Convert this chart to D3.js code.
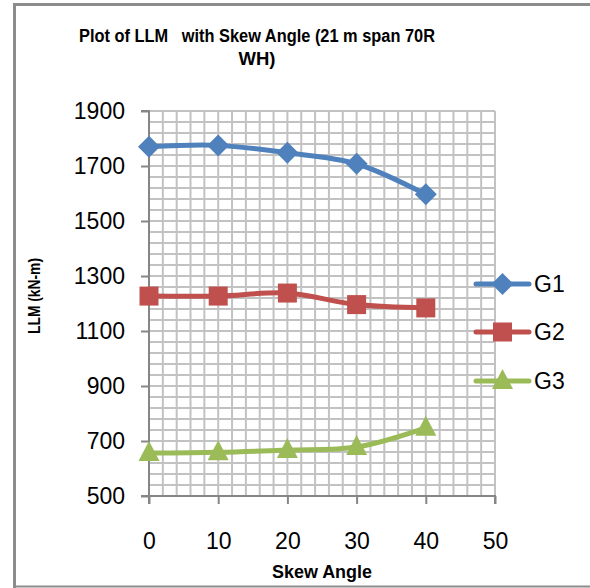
<!DOCTYPE html>
<html>
<head>
<meta charset="utf-8">
<script src="https://cdn.jsdelivr.net/npm/d3@7"></script>
<style>
  html, body { margin: 0; padding: 0; background: #fff; }
  svg { display: block; }
  text { font-family: "Liberation Sans Narrow", "Arial Narrow", "Liberation Sans", Arial, sans-serif; fill: #000; }
</style>
</head>
<body>
<svg id="chart" width="590" height="588"></svg>
<script>
// Skew angle (degrees) and longitudinal live-load moment per girder
const skewAngles = [0, 10, 20, 30, 40];
const g1 = [1770, 1775, 1748, 1708, 1597];
const g2 = [1227, 1227, 1238, 1196, 1184];
const g3 = [656, 659, 667, 678, 748];
const seriesNames = ["G1", "G2", "G3"];
const yTicks = [500, 700, 900, 1100, 1300, 1500, 1700, 1900];
const xTicks = [0, 10, 20, 30, 40, 50];

const series = [
  { name: seriesNames[0], values: g1, color: "#4F81BD", marker: "diamond" },
  { name: seriesNames[1], values: g2, color: "#C0504D", marker: "square" },
  { name: seriesNames[2], values: g3, color: "#9BBB59", marker: "triangle" }
];

const svg = d3.select("#chart");
const plot = { left: 149, right: 495, top: 111, bottom: 496 };

const x = d3.scaleLinear().domain([0, 50]).range([plot.left, plot.right]);
const y = d3.scaleLinear().domain([500, 1900]).range([plot.bottom, plot.top]);

// Chart frame
svg.append("path")
  .attr("d", "M14.5,590 L14.5,4.5 L600,4.5")
  .attr("fill", "none").attr("stroke", "#8c8c8c").attr("stroke-width", 3);
svg.append("line")
  .attr("x1", 14).attr("x2", 600).attr("y1", 586.5).attr("y2", 586.5)
  .attr("stroke", "#8c8c8c").attr("stroke-width", 2);

// Gridlines: minor every 2 degrees and every 40 kN-m
const grid = svg.append("g");
d3.range(2, 50.1, 2).forEach(v => {
  grid.append("line")
    .attr("x1", x(v)).attr("x2", x(v)).attr("y1", plot.top).attr("y2", plot.bottom)
    .attr("stroke", "#c2c2c2").attr("stroke-width", 2);
});
d3.range(540, 1900.1, 40).forEach(v => {
  grid.append("line")
    .attr("x1", plot.left).attr("x2", plot.right).attr("y1", y(v)).attr("y2", y(v))
    .attr("stroke", "#c2c2c2").attr("stroke-width", 2);
});

// Axes
const yAxis = d3.axisLeft(y).tickValues(yTicks).tickSize(8).tickPadding(16).tickFormat(d3.format("d"));
const xAxis = d3.axisBottom(x).tickValues(xTicks).tickSize(8).tickPadding(29).tickFormat(d3.format("d"));

const gy = svg.append("g").attr("transform", `translate(${plot.left},0)`).call(yAxis);
const gx = svg.append("g").attr("transform", `translate(0,${plot.bottom})`).call(xAxis);
[gx, gy].forEach(g => {
  g.select(".domain").attr("stroke", "#868686").attr("stroke-width", 2);
  g.selectAll(".tick line").attr("stroke", "#868686").attr("stroke-width", 2);
  g.selectAll(".tick text")
    .style("font-family", "'Liberation Sans Narrow', 'Arial Narrow', 'Liberation Sans', Arial, sans-serif")
    .style("font-size", "23px").attr("fill", "#000");
});
gx.select(".domain").attr("d", `M${plot.left},8V0H${plot.right}V8`);
gy.select(".domain").attr("d", `M-8,${plot.top}H0V${plot.bottom}H-8`);

// Series lines and markers
const line = d3.line()
  .x((d, i) => x(skewAngles[i]))
  .y(d => y(d))
  .curve(d3.curveCatmullRom.alpha(0.5));

function drawMarker(g, type, cx, cy, color) {
  if (type === "diamond") {
    g.append("path")
      .attr("d", `M${cx},${cy - 11}L${cx + 11},${cy}L${cx},${cy + 11}L${cx - 11},${cy}Z`)
      .attr("fill", color);
  } else if (type === "square") {
    g.append("rect")
      .attr("x", cx - 9.5).attr("y", cy - 9.5).attr("width", 19).attr("height", 19)
      .attr("fill", color);
  } else {
    g.append("path")
      .attr("d", `M${cx},${cy - 12}L${cx + 10.5},${cy + 8}L${cx - 10.5},${cy + 8}Z`)
      .attr("fill", color);
  }
}

series.forEach(s => {
  const g = svg.append("g");
  g.append("path")
    .datum(s.values)
    .attr("d", line)
    .attr("fill", "none")
    .attr("stroke", s.color)
    .attr("stroke-width", 5)
    .attr("stroke-linecap", "round");
  s.values.forEach((v, i) => drawMarker(g, s.marker, x(skewAngles[i]), y(v), s.color));
});

// Legend
const legendY = [284, 332, 381];
series.forEach((s, i) => {
  const g = svg.append("g");
  g.append("line")
    .attr("x1", 476).attr("x2", 529).attr("y1", legendY[i]).attr("y2", legendY[i])
    .attr("stroke", s.color).attr("stroke-width", 5).attr("stroke-linecap", "round");
  drawMarker(g, s.marker, 502.5, legendY[i], s.color);
  g.append("text")
    .attr("x", 534).attr("y", legendY[i]).attr("dy", "0.35em")
    .style("font-size", "23px")
    .text(s.name);
});

// Titles
const title = svg.append("text")
  .attr("text-anchor", "middle")
  .style("font-size", "18px").style("font-weight", "bold");
title.append("tspan").attr("x", 257).attr("y", 42).attr("xml:space", "preserve")
  .attr("textLength", 356).attr("lengthAdjust", "spacingAndGlyphs")
  .text("Plot of LLM   with Skew Angle (21 m span 70R");
title.append("tspan").attr("x", 257).attr("y", 65)
  .attr("textLength", 37).attr("lengthAdjust", "spacingAndGlyphs")
  .text("WH)");

svg.append("text")
  .attr("transform", "translate(40,296) rotate(-90)")
  .attr("text-anchor", "middle")
  .attr("textLength", 76).attr("lengthAdjust", "spacingAndGlyphs")
  .style("font-size", "17px").style("font-weight", "bold")
  .text("LLM (kN-m)");

svg.append("text")
  .attr("x", 322).attr("y", 578).attr("text-anchor", "middle")
  .attr("textLength", 100).attr("lengthAdjust", "spacingAndGlyphs")
  .style("font-size", "18px").style("font-weight", "bold")
  .text("Skew Angle");
</script>
</body>
</html>
